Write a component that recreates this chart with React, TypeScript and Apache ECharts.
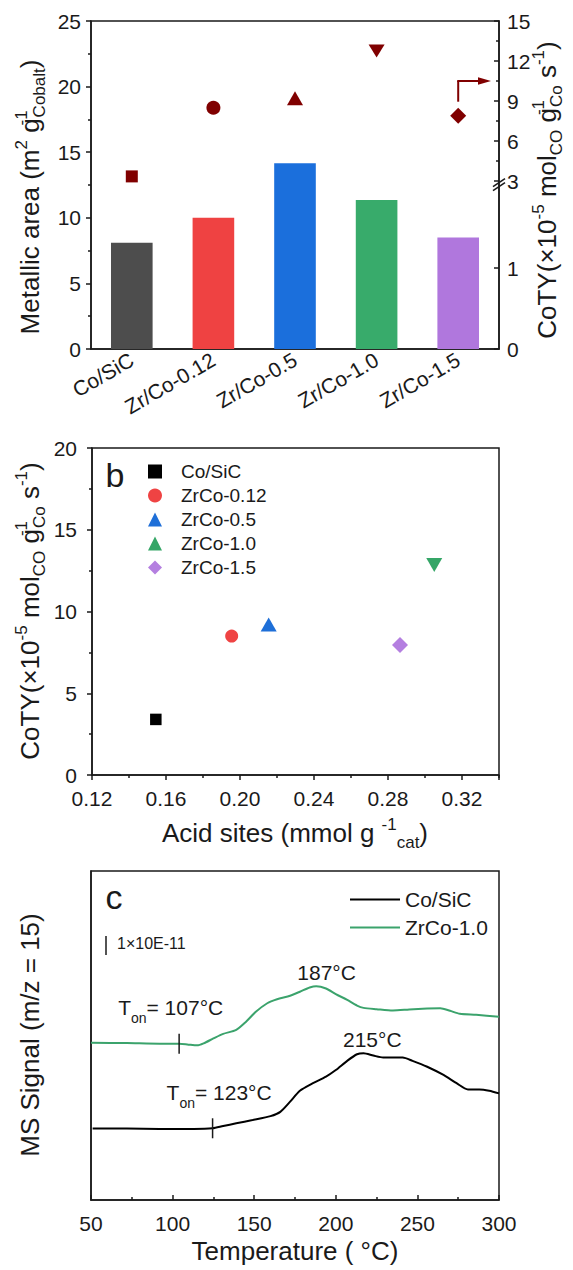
import React, { useEffect, useRef } from 'react';
import * as echarts from 'echarts';

const FF = '"Liberation Sans", Arial, Helvetica, sans-serif';
const INK = '#1a1a1a';
const DARK_RED = '#800000';

// ---------- Panel a ----------
const categories = ['Co/SiC', 'Zr/Co-0.12', 'Zr/Co-0.5', 'Zr/Co-1.0', 'Zr/Co-1.5'];
const metallicArea = [8.1, 10.0, 14.15, 11.35, 8.5];
const cotyA = [3.35, 8.5, 9.2, 12.75, 7.9];
const rightTickValues = [0, 1, 3, 6, 9, 12, 15];
const rightMinorValues = [4.5, 7.5, 10.5, 13.5];

// ---------- Panel b ----------
const sampleNames = ['Co/SiC', 'ZrCo-0.12', 'ZrCo-0.5', 'ZrCo-1.0', 'ZrCo-1.5'];
const acidSites = [0.1545, 0.1955, 0.2155, 0.305, 0.2865];
const cotyB = [3.4, 8.5, 9.2, 12.85, 7.95];

// ---------- Panel c ----------
const tempCo = [51, 72, 92, 113, 124.5, 131, 139, 149, 160, 166, 172, 178, 186, 194, 200, 207, 213, 217, 223, 229, 235, 241, 247, 256, 266, 274, 281, 288, 294, 300];
const signalCo = [21.7, 21.7, 21.6, 21.6, 21.8, 22.5, 23.3, 24.3, 25.5, 26.8, 29.9, 33.2, 35.5, 37.5, 39.5, 42.3, 44.3, 44.6, 43.9, 43.3, 43.3, 43.3, 42.3, 40.5, 38.0, 35.5, 33.6, 33.6, 33.2, 32.4];
const tempZr = [50, 72, 92, 104, 109, 115, 119, 125, 131, 139, 145, 151, 158, 164, 172, 178, 184, 188, 194, 200, 207, 213, 217, 225, 235, 245, 256, 264, 270, 276, 286, 300];
const signalZr = [47.8, 47.7, 47.5, 47.5, 47.3, 47.0, 47.6, 49.1, 50.5, 51.7, 54.2, 57.2, 59.8, 61.0, 62.1, 63.3, 64.6, 65.0, 64.3, 62.6, 60.8, 59.1, 58.4, 58.0, 57.6, 57.9, 58.2, 58.3, 57.5, 56.6, 56.3, 55.7];
const onsetZr = [104, 47.5];
const onsetCo = [124.5, 21.8];
const peakZr = [187, 65];
const peakCo = [215, 44.6];

// ---------- styles ----------
const barColors = ['#4d4d4d', '#ef4242', '#1b6fdc', '#38ab6b', '#b077dd'];
const symA = ['rect', 'circle', 'triangle', 'triangle', 'diamond'];
const rotA = [0, 0, 0, 180, 0];
const sizeA: any[] = [[12, 12], [14, 14], [16, 14], [16, 13], [16, 16]];
const colorsB = ['#000000', '#ef4343', '#1e6fd8', '#35a667', '#b47fe0'];
const sizeB: any[] = [[11.5, 11.5], [13, 13], [16, 14], [16, 14], [16, 16]];

// broken right axis of panel a: CoTY value -> metallic-area units
function toLeft(v: number) {
  return v >= 3 ? 12.8 + (v - 3) * (12.2 / 12) : v * 6.17;
}

const lineSt = { color: INK, width: 1.5 };
const tickLbl = { fontSize: 21, color: INK, fontFamily: FF };

const richBase = {
  m: { fontSize: 26, lineHeight: 36, fontFamily: FF, color: INK },
  sup: { fontSize: 17, lineHeight: 17, verticalAlign: 'top', padding: [1, 0, 0, 0], fontFamily: FF, color: INK },
  supS: { fontSize: 17, lineHeight: 17, verticalAlign: 'top', padding: [1, 0, 0, 0], width: 1, fontFamily: FF, color: INK },
  sub: { fontSize: 17, lineHeight: 17, verticalAlign: 'bottom', fontFamily: FF, color: INK },
};
const richTon = {
  m: { fontSize: 21, lineHeight: 28, verticalAlign: 'top', fontFamily: FF, color: INK },
  sub: { fontSize: 14, lineHeight: 14, verticalAlign: 'bottom', fontFamily: FF, color: INK },
};

function txt(x: number, y: number, text: string, opts: any = {}) {
  const { rotation = 0, rich, fontSize = 21, align = 'center', vAlign = 'middle' } = opts;
  return {
    type: 'text',
    x,
    y,
    rotation,
    z: 100,
    style: {
      text,
      rich,
      fill: INK,
      fontSize,
      fontFamily: FF,
      align,
      textAlign: align,
      verticalAlign: vAlign,
      textVerticalAlign: vAlign,
    },
  };
}

function ln(x1: number, y1: number, x2: number, y2: number, color = INK, w = 1.5) {
  return { type: 'line', z: 100, shape: { x1, y1, x2, y2 }, style: { stroke: color, lineWidth: w } };
}

export default function App() {
  const ref = useRef<HTMLDivElement>(null);

  useEffect(() => {
    const chart = echarts.init(ref.current as HTMLDivElement, null, { renderer: 'svg' });
    const rightCustom = rightTickValues.map(toLeft);

    const option: any = {
      animation: false,
      textStyle: { fontFamily: FF, color: INK },
      grid: [
        { left: 91, top: 21, width: 408, height: 328, show: true, borderColor: INK, borderWidth: 1.5 },
        { left: 92, top: 448, width: 407, height: 327, show: true, borderColor: INK, borderWidth: 1.5 },
        { left: 91, top: 871, width: 408, height: 329, show: true, borderColor: INK, borderWidth: 1.5 },
      ],
      xAxis: [
        {
          type: 'category', gridIndex: 0, data: categories,
          axisLine: { lineStyle: lineSt },
          axisTick: { alignWithLabel: true, length: 5, lineStyle: lineSt },
          axisLabel: { rotate: 30, interval: 0, margin: 9, fontSize: 21, color: INK, fontFamily: FF },
        },
        {
          type: 'value', gridIndex: 1, min: 0.12, max: 0.34, interval: 0.04,
          axisLine: { show: true, lineStyle: lineSt },
          axisTick: { show: true, length: 5, lineStyle: lineSt },
          minorTick: { show: true, splitNumber: 2, length: 3, lineStyle: lineSt },
          axisLabel: { ...tickLbl, margin: 13, showMaxLabel: false, formatter: (v: number) => v.toFixed(2) },
          splitLine: { show: false },
        },
        {
          type: 'value', gridIndex: 2, min: 50, max: 300, interval: 50,
          axisLine: { show: true, lineStyle: lineSt },
          axisTick: { show: true, inside: true, length: 5, lineStyle: lineSt },
          minorTick: { show: true, splitNumber: 2, length: 3, lineStyle: lineSt },
          axisLabel: { ...tickLbl, margin: 13 },
          splitLine: { show: false },
        },
      ],
      yAxis: [
        {
          type: 'value', gridIndex: 0, min: 0, max: 25, interval: 5,
          axisLine: { show: true, lineStyle: lineSt },
          axisTick: { show: true, length: 5, lineStyle: lineSt },
          minorTick: { show: true, splitNumber: 2, length: 3, lineStyle: lineSt },
          axisLabel: { ...tickLbl, margin: 10 },
          splitLine: { show: false },
        },
        {
          type: 'value', gridIndex: 0, position: 'right', min: 0, max: 25,
          axisLine: { show: true, lineStyle: lineSt },
          axisTick: { show: true, inside: true, length: 5, lineStyle: lineSt, customValues: rightCustom },
          axisLabel: {
            ...tickLbl, margin: 8, customValues: rightCustom,
            formatter: (v: number) => {
              const i = rightCustom.findIndex((c) => Math.abs(c - v) < 1e-6);
              return i >= 0 ? String(rightTickValues[i]) : '';
            },
          },
          splitLine: { show: false },
        },
        {
          type: 'value', gridIndex: 0, position: 'right', min: 0, max: 25,
          axisLine: { show: false },
          axisTick: { show: true, inside: true, length: 3, lineStyle: lineSt, customValues: rightMinorValues.map(toLeft) },
          axisLabel: { show: false },
          splitLine: { show: false },
        },
        {
          type: 'value', gridIndex: 1, min: 0, max: 20, interval: 5,
          axisLine: { show: true, lineStyle: lineSt },
          axisTick: { show: true, length: 5, lineStyle: lineSt },
          minorTick: { show: true, splitNumber: 2, length: 3, lineStyle: lineSt },
          axisLabel: { ...tickLbl, margin: 15 },
          splitLine: { show: false },
        },
        {
          type: 'value', gridIndex: 2, min: 0, max: 100,
          axisLine: { show: true, lineStyle: lineSt },
          axisTick: { show: false },
          axisLabel: { show: false },
          splitLine: { show: false },
        },
      ],
      legend: [
        {
          data: sampleNames, orient: 'vertical', left: 148, top: 462, padding: 0,
          itemWidth: 14, itemHeight: 14, itemGap: 5, selectedMode: false,
          textStyle: { fontSize: 19, color: INK, fontFamily: FF, padding: [0, 0, 0, 14] },
        },
        {
          data: ['MS Co/SiC', 'MS ZrCo-1.0'], orient: 'vertical', left: 350, top: 889, padding: 0,
          icon: 'rect', itemWidth: 50, itemHeight: 2, itemGap: 7, selectedMode: false,
          formatter: (n: string) => n.replace('MS ', ''),
          textStyle: { fontSize: 21, lineHeight: 20, color: INK, fontFamily: FF },
        },
      ],
      series: [
        {
          type: 'bar', name: 'Metallic area', xAxisIndex: 0, yAxisIndex: 0, barWidth: '51%',
          data: metallicArea.map((v, i) => ({ value: v, itemStyle: { color: barColors[i] } })),
        },
        {
          type: 'scatter', name: 'CoTY', xAxisIndex: 0, yAxisIndex: 0, z: 5,
          itemStyle: { color: DARK_RED, opacity: 1 },
          data: cotyA.map((v, i) => ({
            value: [i, toLeft(v)], symbol: symA[i], symbolSize: sizeA[i], symbolRotate: rotA[i],
          })),
        },
        ...sampleNames.map((n, i) => ({
          type: 'scatter', name: n, xAxisIndex: 1, yAxisIndex: 3,
          symbol: symA[i], symbolSize: sizeB[i], symbolRotate: rotA[i],
          itemStyle: { color: colorsB[i], opacity: 1 },
          data: [[acidSites[i], cotyB[i]]],
        })),
        {
          type: 'line', name: 'MS Co/SiC', xAxisIndex: 2, yAxisIndex: 4, symbol: 'none', showSymbol: false,
          smooth: 0.25, lineStyle: { color: '#000000', width: 2 }, itemStyle: { color: '#000000' },
          data: tempCo.map((t, i) => [t, signalCo[i]]),
        },
        {
          type: 'line', name: 'MS ZrCo-1.0', xAxisIndex: 2, yAxisIndex: 4, symbol: 'none', showSymbol: false,
          smooth: 0.25, lineStyle: { color: '#3ba36c', width: 2 }, itemStyle: { color: '#3ba36c' },
          data: tempZr.map((t, i) => [t, signalZr[i]]),
        },
      ],
    };
    chart.setOption(option);

    const pa = (x: number, y: number) => chart.convertToPixel({ xAxisIndex: 0, yAxisIndex: 0 }, [x, y]) as number[];
    const pc = (x: number, y: number) => chart.convertToPixel({ xAxisIndex: 2, yAxisIndex: 4 }, [x, y]) as number[];

    const els: any[] = [];
    // axis break on right axis (panel a)
    const br = pa(4, 12.45);
    const axX = 499;
    els.push(ln(axX - 6, br[1] + 5, axX + 6, br[1] - 3));
    els.push(ln(axX - 6, br[1] + 1, axX + 6, br[1] - 7));
    // arrow from the diamond to the right axis
    const dia = pa(4, toLeft(cotyA[4]));
    const arrY = pa(4, toLeft(10.5))[1];
    els.push(ln(dia[0], dia[1] - 14, dia[0], arrY, DARK_RED, 2));
    els.push(ln(dia[0] - 1, arrY, axX - 18, arrY, DARK_RED, 2));
    els.push({
      type: 'polygon', z: 100,
      shape: { points: [[axX - 21, arrY - 3.8], [axX - 8, arrY], [axX - 21, arrY + 3.8]] },
      style: { fill: DARK_RED },
    });

    // axis titles
    const cotyTitle = '{m|CoTY(×10}{sup|-5}{m| mol}{sub|CO}{m| g}{supS|-1}{sub|Co}{m| s}{sup|-1}{m|)}';
    els.push(txt(30, 197, '{m|Metallic area (m}{sup|2}{m| g}{supS|-1}{sub|Cobalt}{m|)}', { rotation: Math.PI / 2, rich: richBase }));
    els.push(txt(547, 190, cotyTitle, { rotation: Math.PI / 2, rich: richBase }));
    els.push(txt(30, 611, cotyTitle, { rotation: Math.PI / 2, rich: richBase }));
    els.push(txt(295, 833, '{m|Acid sites (mmol g }{sup|-1}{sub|cat}{m|)}', { rich: richBase }));
    els.push(txt(30, 1035, 'MS Signal (m/z = 15)', { rotation: Math.PI / 2, fontSize: 26 }));
    els.push(txt(295, 1251, 'Temperature ( °C)', { fontSize: 26 }));

    // panel letters
    els.push(txt(115, 475, 'b', { fontSize: 34 }));
    els.push(txt(114, 897, 'c', { fontSize: 34 }));

    // panel c annotations
    els.push(ln(106, 936, 106, 955));
    els.push(txt(117, 943, '1×10E-11', { fontSize: 16, align: 'left' }));
    const oz = pc(onsetZr[0], onsetZr[1]);
    const oc = pc(onsetCo[0], onsetCo[1]);
    els.push(ln(oz[0], oz[1] - 10, oz[0], oz[1] + 10));
    els.push(ln(oc[0], oc[1] - 10, oc[0], oc[1] + 10));
    els.push(txt(oz[0] - 61, oz[1] - 33, '{m|T}{sub|on}{m|= 107°C}', { rich: richTon, align: 'left' }));
    els.push(txt(oc[0] - 46, oc[1] - 32, '{m|T}{sub|on}{m|= 123°C}', { rich: richTon, align: 'left' }));
    const pz = pc(peakZr[0], peakZr[1]);
    const pk = pc(peakCo[0], peakCo[1]);
    els.push(txt(pz[0] + 12, pz[1] - 14, '187°C', { fontSize: 21 }));
    els.push(txt(pk[0] + 12, pk[1] - 14, '215°C', { fontSize: 21 }));

    chart.setOption({ graphic: { elements: els } });
    return () => chart.dispose();
  }, []);

  return <div ref={ref} style={{ position: 'absolute', left: 0, top: 0, width: 573, height: 1270 }} />;
}
